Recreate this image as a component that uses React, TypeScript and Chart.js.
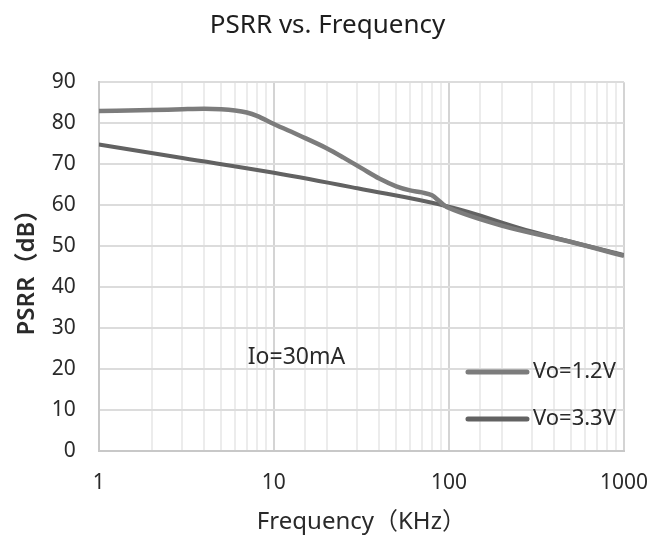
import React, { useEffect, useRef } from "react";
import { Chart, registerables } from "chart.js";

Chart.register(...registerables);

const freq12 = [1, 2, 3, 4, 5, 6, 7, 8, 10, 14, 20, 25, 32, 40, 50, 60, 70, 80, 88, 95, 100, 200, 500, 1000];
const psrr12 = [83, 83.2, 83.4, 83.5, 83.4, 83.1, 82.6, 81.8, 79.8, 77.0, 73.9, 71.6, 68.9, 66.5, 64.6, 63.6, 63.1, 62.4, 61.0, 59.8, 59.3, 55.0, 51.0, 47.6];
const freq33 = [1, 3, 10, 30, 100, 300, 1000];
const psrr33 = [74.8, 71.5, 67.9, 64.1, 59.6, 53.5, 47.8];
const seriesLabels = ["Vo=1.2V", "Vo=3.3V"];
const seriesColors = ["#7c7c7c", "#626262"];
const xTickLabels = [1, 10, 100, 1000];
const annotationText = "Io=30mA";

const overlayPlugin = {
  id: "overlay",
  afterDatasetsDraw(chart: any) {
    const { ctx, chartArea } = chart;
    ctx.save();
    ctx.font = "23px 'Noto Sans', sans-serif";
    ctx.fillStyle = "#2a2a2a";
    ctx.textBaseline = "middle";
    ctx.textAlign = "left";
    ctx.fillText(annotationText, chartArea.left + 149, chartArea.bottom - 94);
    const rows = [chartArea.bottom - 79, chartArea.bottom - 32];
    chart.data.datasets.forEach((ds: any, i: number) => {
      const y = rows[i];
      ctx.strokeStyle = ds.borderColor;
      ctx.lineWidth = 5;
      ctx.lineCap = "round";
      ctx.beginPath();
      ctx.moveTo(chartArea.right - 156, y);
      ctx.lineTo(chartArea.right - 97, y);
      ctx.stroke();
      ctx.font = "22px 'Noto Sans', sans-serif";
      ctx.fillStyle = "#2a2a2a";
      ctx.fillText(ds.label, chartArea.right - 91, y);
    });
    ctx.restore();
  },
};

export default function App() {
  const ref = useRef<HTMLCanvasElement>(null);
  useEffect(() => {
    if (!ref.current) return;
    const chart = new Chart(ref.current, {
      type: "line",
      data: {
        datasets: [
          {
            label: seriesLabels[0],
            data: freq12.map((f, i) => ({ x: f, y: psrr12[i] })),
            borderColor: seriesColors[0],
            backgroundColor: seriesColors[0],
            borderWidth: 4.5,
            pointRadius: 0,
            cubicInterpolationMode: "monotone",
          },
          {
            label: seriesLabels[1],
            data: freq33.map((f, i) => ({ x: f, y: psrr33[i] })),
            borderColor: seriesColors[1],
            backgroundColor: seriesColors[1],
            borderWidth: 4,
            pointRadius: 0,
            tension: 0.4,
          },
        ],
      },
      options: {
        responsive: false,
        animation: false,
        layout: { padding: { left: 4, right: 16, top: 4, bottom: 2 } },
        plugins: {
          legend: { display: false },
          tooltip: { enabled: false },
          title: {
            display: true,
            text: "PSRR vs. Frequency",
            color: "#1e1e1e",
            font: { family: "'Noto Sans', sans-serif", size: 26, weight: "normal" },
            padding: { top: 6, bottom: 41 },
          },
        },
        scales: {
          x: {
            type: "logarithmic",
            min: 1,
            max: 1000,
            title: {
              display: true,
              text: "Frequency（KHz）",
              color: "#2a2a2a",
              font: { family: "'Noto Sans', 'Noto Sans CJK SC', sans-serif", size: 24 },
              padding: { top: -6, bottom: 0 },
            },
            grid: {
              color: (c: any) => {
                const v = c.tick ? c.tick.value : 0;
                const l = Math.log10(v);
                return Math.abs(l - Math.round(l)) < 1e-9 ? "#d4d4d4" : "#ececec";
              },
              lineWidth: 2,
              drawTicks: false,
            },
            border: { color: "#c8c8c8", width: 2 },
            ticks: {
              autoSkip: false,
              maxRotation: 0,
              padding: 19,
              color: "#2a2a2a",
              font: { family: "'Noto Sans', sans-serif", size: 21 },
              callback: (v: any) => (xTickLabels.includes(Number(v)) ? String(v) : ""),
            },
          },
          y: {
            min: 0,
            max: 90,
            title: {
              display: true,
              text: "PSRR（dB）",
              color: "#2a2a2a",
              font: { family: "'Noto Sans', 'Noto Sans CJK SC', sans-serif", size: 24, weight: "600" },
              padding: { top: 9, bottom: -13 },
            },
            grid: { color: "#dcdcdc", lineWidth: 2, drawTicks: false },
            border: { color: "#c8c8c8", width: 2 },
            ticks: {
              stepSize: 10,
              padding: 23,
              color: "#2a2a2a",
              font: { family: "'Noto Sans', sans-serif", size: 21 },
            },
          },
        },
      },
      plugins: [overlayPlugin],
    } as any);
    return () => chart.destroy();
  }, []);
  return (
    <div style={{ position: "fixed", left: 0, top: 0, width: 667, height: 539, background: "#fff" }}>
      <canvas ref={ref} width={667} height={539} />
    </div>
  );
}
